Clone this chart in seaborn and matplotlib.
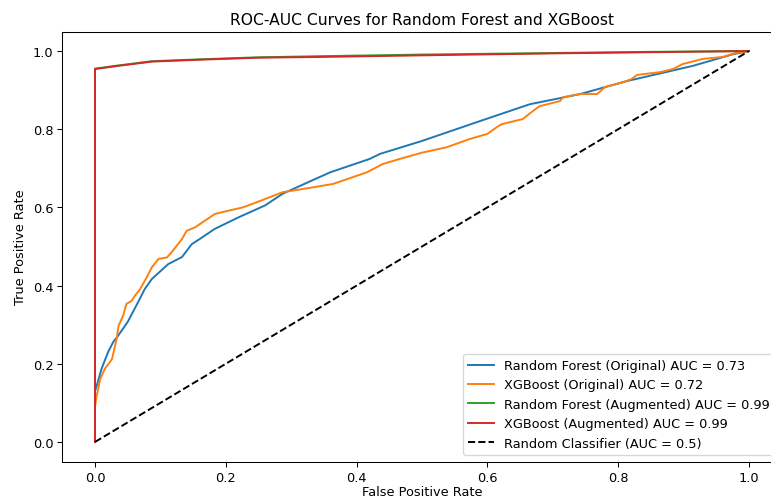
import matplotlib
matplotlib.use('Agg')
import matplotlib.pyplot as plt
import seaborn as sns

# ROC points
rf_orig_fpr = [0.0, 0.0, 0.0026, 0.01, 0.02, 0.028, 0.035, 0.05, 0.066, 0.076, 0.087, 0.112,
               0.133, 0.148, 0.16, 0.183, 0.22, 0.26, 0.287, 0.32, 0.36, 0.42, 0.436, 0.5,
               0.589, 0.665, 0.742, 0.813, 0.914, 0.976, 1.0]
rf_orig_tpr = [0.0, 0.13, 0.144, 0.187, 0.23, 0.256, 0.271, 0.307, 0.358, 0.391, 0.417, 0.455,
               0.473, 0.506, 0.519, 0.545, 0.575, 0.605, 0.635, 0.66, 0.69, 0.724, 0.737, 0.77,
               0.821, 0.864, 0.89, 0.923, 0.962, 0.992, 1.0]

xgb_orig_fpr = [0.0, 0.0, 0.0026, 0.008, 0.015, 0.026, 0.033, 0.036, 0.043, 0.048, 0.056, 0.061,
                0.069, 0.079, 0.087, 0.097, 0.11, 0.117, 0.133, 0.14, 0.153, 0.168, 0.183, 0.2,
                0.226, 0.25, 0.287, 0.31, 0.364, 0.39, 0.416, 0.44, 0.466, 0.5, 0.538, 0.573,
                0.6, 0.615, 0.622, 0.654, 0.67, 0.68, 0.711, 0.716, 0.742, 0.768, 0.78, 0.807,
                0.82, 0.829, 0.864, 0.884, 0.899, 0.93, 0.96, 0.98, 1.0]
xgb_orig_tpr = [0.0, 0.09, 0.118, 0.161, 0.187, 0.212, 0.263, 0.297, 0.323, 0.353, 0.361, 0.374,
                0.391, 0.421, 0.447, 0.468, 0.472, 0.485, 0.519, 0.54, 0.549, 0.566, 0.583, 0.59,
                0.60, 0.615, 0.639, 0.645, 0.66, 0.675, 0.69, 0.711, 0.724, 0.74, 0.754, 0.775,
                0.788, 0.806, 0.813, 0.826, 0.847, 0.859, 0.872, 0.882, 0.89, 0.89, 0.908, 0.92,
                0.928, 0.939, 0.946, 0.954, 0.967, 0.98, 0.985, 0.995, 1.0]

rf_aug_fpr = [0.0, 0.0, 0.035, 0.087, 0.163, 0.25, 0.35, 0.5, 0.7, 0.85, 1.0]
rf_aug_tpr = [0.0, 0.955, 0.963, 0.974, 0.979, 0.984, 0.987, 0.991, 0.995, 0.998, 1.0]

xgb_aug_fpr = [0.0, 0.0, 0.035, 0.087, 0.163, 0.25, 0.35, 0.5, 0.7, 0.85, 1.0]
xgb_aug_tpr = [0.0, 0.954, 0.962, 0.973, 0.978, 0.983, 0.985, 0.989, 0.994, 0.997, 1.0]

labels = ['Random Forest (Original) AUC = 0.73',
          'XGBoost (Original) AUC = 0.72',
          'Random Forest (Augmented) AUC = 0.99',
          'XGBoost (Augmented) AUC = 0.99']

DPI = 93
fig = plt.figure(figsize=(771 / DPI, 500 / DPI), dpi=DPI)
# axes run past the right edge, like the cropped original
ax = fig.add_axes([0.0808, 0.075, 0.933, 0.86])

curves = [(rf_orig_fpr, rf_orig_tpr), (xgb_orig_fpr, xgb_orig_tpr),
          (rf_aug_fpr, rf_aug_tpr), (xgb_aug_fpr, xgb_aug_tpr)]
colors = sns.color_palette('tab10', 4)
for (fpr, tpr), lab, col in zip(curves, labels, colors):
    sns.lineplot(x=fpr, y=tpr, sort=False, estimator=None, color=col, label=lab, ax=ax)

ax.plot([0, 1], [0, 1], 'k--', label='Random Classifier (AUC = 0.5)')

ax.set_xlim(-0.05, 1.05)
ax.set_ylim(-0.05, 1.05)
ax.set_xlabel('False Positive Rate', labelpad=1.5)
ax.set_ylabel('True Positive Rate')
ax.set_title('ROC-AUC Curves for Random Forest and XGBoost')
ax.legend(loc='lower right')

fig.savefig('out.png', dpi=DPI)
